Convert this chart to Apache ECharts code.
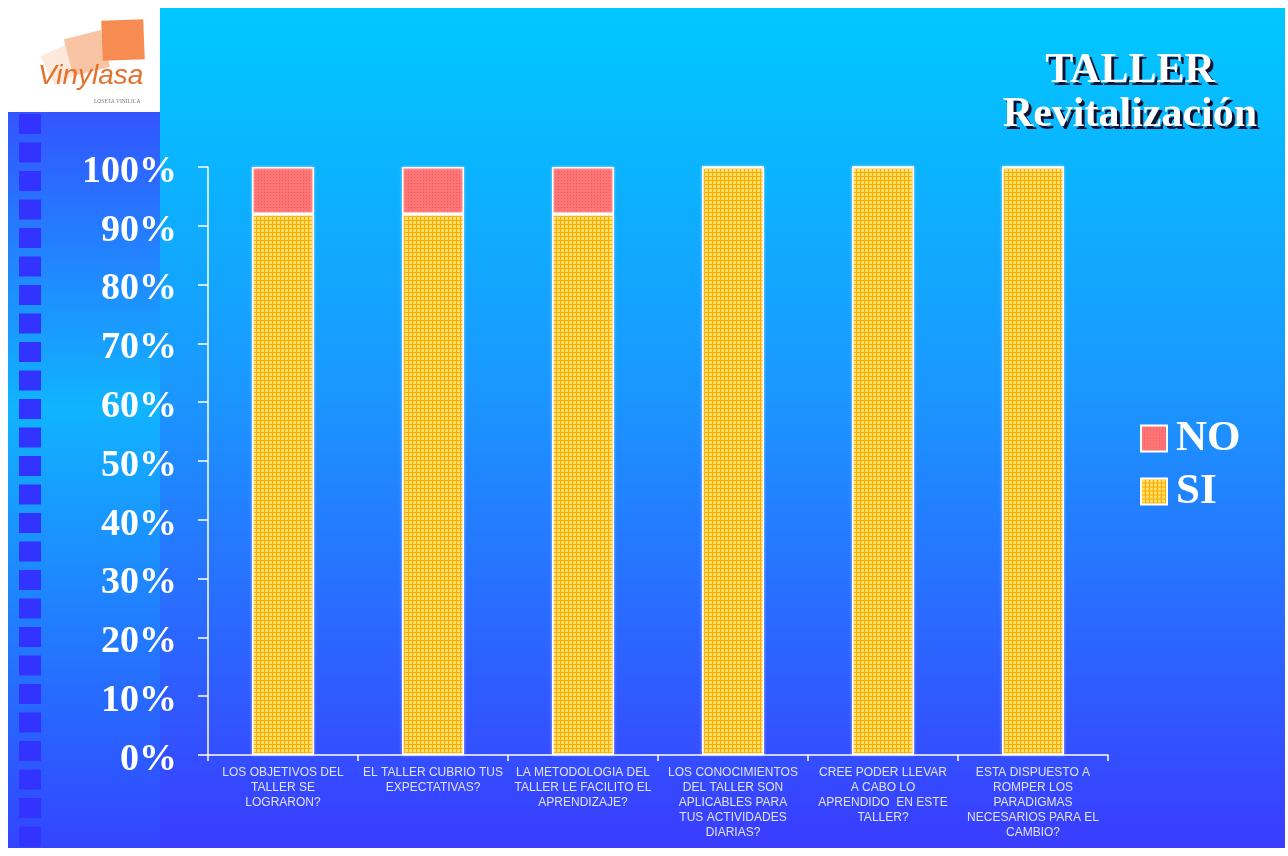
<!DOCTYPE html>
<html><head><meta charset="utf-8">
<script src="https://cdn.jsdelivr.net/npm/echarts@6/dist/echarts.min.js"></script>
<style>html,body{margin:0;padding:0;background:#fff}#c{width:1288px;height:856px}</style>
</head><body><div id="c"></div>
<script>
const categories = [
  "LOS OBJETIVOS DEL\nTALLER SE\nLOGRARON?",
  "EL TALLER CUBRIO TUS\nEXPECTATIVAS?",
  "LA METODOLOGIA DEL\nTALLER LE FACILITO EL\nAPRENDIZAJE?",
  "LOS CONOCIMIENTOS\nDEL TALLER SON\nAPLICABLES PARA\nTUS ACTIVIDADES\nDIARIAS?",
  "CREE PODER LLEVAR\nA CABO LO\nAPRENDIDO  EN ESTE\nTALLER?",
  "ESTA DISPUESTO A\nROMPER LOS\nPARADIGMAS\nNECESARIOS PARA EL\nCAMBIO?"
];
const siValues = [92, 92, 92, 100, 100, 100];
const noValues = [8, 8, 8, 0, 0, 0];
const yTicks = [0, 10, 20, 30, 40, 50, 60, 70, 80, 90, 100];

function makePattern(kind){
  const c = document.createElement('canvas');
  const ctx = c.getContext('2d');
  if(kind==='si'){
    c.width=4;c.height=4;
    ctx.fillStyle='#ffe066';ctx.fillRect(0,0,4,4);
    ctx.fillStyle='#ffa800';ctx.fillRect(0,0,4,1);ctx.fillRect(0,0,1,4);
  } else {
    c.width=3;c.height=3;
    ctx.fillStyle='#ff7474';ctx.fillRect(0,0,3,3);
    ctx.fillStyle='#ee5a5a';ctx.fillRect(0,0,1,1);
  }
  return {image:c, repeat:'repeat'};
}
const siPat = makePattern('si');
const noPat = makePattern('no');

const chart = echarts.init(document.getElementById('c'), null, {renderer:'canvas'});

const graphics = [
  {type:'rect', z:-100, shape:{x:160,y:8,width:1125,height:840},
   style:{fill:new echarts.graphic.LinearGradient(0,0,0,1,[
     {offset:0,color:'#00c8ff'},{offset:0.45,color:'#1a98ff'},{offset:1,color:'#3a3cff'}])}},
  {type:'rect', z:-99, shape:{x:8,y:112,width:152,height:736},
   style:{fill:new echarts.graphic.LinearGradient(0,0,0,1,[
     {offset:0,color:'#3355ff'},{offset:0.4,color:'#10b4ff'},{offset:1,color:'#3344ff'}])}},
  {type:'rect', z:-98, shape:{x:0,y:0,width:160,height:112}, style:{fill:'#ffffff'}},
  // logo
  {type:'rect', z:-97, shape:{x:46,y:48,width:32,height:32}, rotation:0.45, originX:62, originY:64, style:{fill:'#fde8dc'}},
  {type:'rect', z:-97, shape:{x:68,y:34,width:38,height:38}, rotation:0.25, originX:87, originY:53, style:{fill:'#f9c4a4'}},
  {type:'rect', z:-97, shape:{x:102,y:20,width:42,height:40}, rotation:0.04, originX:123, originY:40, style:{fill:'#f78c52'}},
  {type:'text', z:-96, x:38, y:62, style:{text:'Vinylasa', fill:'#e5702a', font:'italic 28px "Liberation Sans"'}},
  {type:'text', z:-96, x:94, y:99, style:{text:'LOSETA VINILICA', fill:'#777', font:'5.5px "Liberation Serif"'}}
];
for(let i=0;i<26;i++){
  graphics.push({type:'rect', z:-95, shape:{x:19,y:114+i*28.5,width:22,height:20}, style:{fill:'#3333ff'}});
}
const titleLines = [['TALLER',50],['Revitalización',94]];
titleLines.forEach(([t,y])=>{
  graphics.push({type:'text', z:49, x:1133, y:y+3, style:{text:t, fill:'#101030', align:'center', font:'bold 42px "Liberation Serif"'}});
  graphics.push({type:'text', z:50, x:1130, y:y, style:{text:t, fill:'#fff', align:'center', font:'bold 42px "Liberation Serif"'}});
});

chart.setOption({
  animation:false,
  backgroundColor:'#ffffff',
  graphic:graphics,
  grid:{left:208, right:180, top:167, bottom:101, containLabel:false},
  legend:{
    orient:'vertical', left:1135, top:412, itemWidth:26, itemHeight:26, itemGap:10,
    data:['NO','SI'],
    textStyle:{color:'#fff', fontFamily:'Liberation Serif', fontWeight:'bold', fontSize:43, padding:[0,0,0,4]},
    icon:'rect'
  },
  xAxis:{
    type:'category', data:categories,
    axisLine:{lineStyle:{color:'#ffffff', width:1.5}},
    axisTick:{show:true, length:6, lineStyle:{color:'#fff', width:1.5}},
    axisLabel:{color:'#e0e2ff', fontFamily:'Liberation Sans', fontSize:12, lineHeight:15, margin:10, interval:0}
  },
  yAxis:{
    type:'value', min:0, max:100, interval:10,
    axisLine:{show:true, lineStyle:{color:'#fff', width:1.5}},
    axisTick:{show:true, length:10, lineStyle:{color:'#fff', width:1.5}},
    splitLine:{show:false},
    axisLabel:{formatter:v=>yTicks.includes(v)?v+'%':'', color:'#fff', fontFamily:'Liberation Serif', fontWeight:'bold', fontSize:38, margin:31, verticalAlign:'top', lineHeight:10}
  },
  series:[
    {name:'SI', type:'bar', stack:'a', data:siValues, barWidth:62,
     itemStyle:{color:siPat, borderColor:'#ffffff', borderWidth:1.5, shadowColor:'rgba(255,255,255,0.5)', shadowBlur:3}},
    {name:'NO', type:'bar', stack:'a', data:noValues, barWidth:62,
     itemStyle:{color:noPat, borderColor:'#ffffff', borderWidth:1.5, shadowColor:'rgba(255,255,255,0.5)', shadowBlur:3}}
  ]
});
</script></body></html>
